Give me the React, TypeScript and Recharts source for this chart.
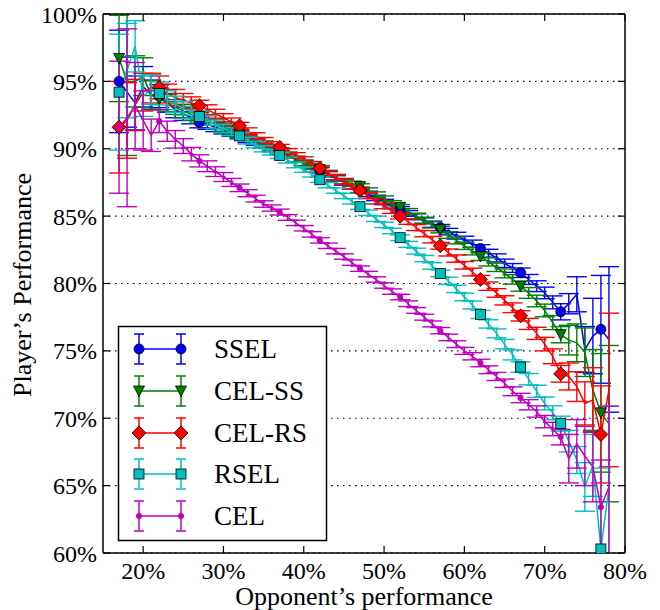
import { ComposedChart, Line, XAxis, YAxis, CartesianGrid, ErrorBar } from 'recharts';

const opponent = [
    17, 18, 19, 20, 21, 22, 23, 24, 25, 26,
    27, 28, 29, 30, 31, 32, 33, 34, 35, 36,
    37, 38, 39, 40, 41, 42, 43, 44, 45, 46,
    47, 48, 49, 50, 51, 52, 53, 54, 55, 56,
    57, 58, 59, 60, 61, 62, 63, 64, 65, 66,
    67, 68, 69, 70, 71, 72, 73, 74, 75, 76,
    77, 78,
];

const ssel = [
    95.0, 94.2, 93.4, 94.6, 94.0, 93.9, 93.4, 92.9, 92.6, 92.3,
    91.95, 91.8, 91.6, 91.4, 91.2, 91.0, 90.7, 90.5, 90.3, 90.0,
    89.8, 89.5, 89.2, 88.95, 88.7, 88.4, 88.1, 87.8, 87.5, 87.2,
    86.95, 86.65, 86.35, 86.05, 85.75, 85.5, 85.2, 84.95, 84.65, 84.4,
    84.15, 83.85, 83.55, 83.25, 82.95, 82.6, 82.25, 81.9, 81.5, 81.15,
    80.8, 80.3, 79.8, 79.3, 78.6, 77.9, 78.5, 79.2, 75.1, 76.1,
    76.6, 75.85,
];
const sselErr = [
    3.8, 2.6, 2.0, 1.5, 1.1, 0.85, 0.7, 0.6, 0.5, 0.45,
    0.4, 0.36, 0.33, 0.3, 0.28, 0.26, 0.25, 0.24, 0.23, 0.22,
    0.22, 0.21, 0.21, 0.2, 0.2, 0.2, 0.2, 0.2, 0.2, 0.2,
    0.2, 0.2, 0.2, 0.2, 0.2, 0.21, 0.21, 0.22, 0.22, 0.23,
    0.23, 0.24, 0.25, 0.26, 0.27, 0.28, 0.29, 0.3, 0.31, 0.33,
    0.35, 0.37, 0.4, 0.43, 0.48, 0.6, 0.75, 1.3, 1.7, 2.8,
    4.0, 5.4,
];

const celSs = [
    96.7, 95.0, 95.0, 95.35, 94.0, 93.7, 93.4, 93.1, 92.8, 92.55,
    92.3, 92.1, 91.85, 91.6, 91.35, 91.1, 90.85, 90.6, 90.35, 90.1,
    89.85, 89.55, 89.25, 88.95, 88.7, 88.45, 88.15, 87.85, 87.6, 87.4,
    87.2, 86.9, 86.6, 86.3, 85.95, 85.65, 85.35, 85.0, 84.7, 84.35,
    84.0, 83.6, 83.2, 82.8, 82.4, 82.0, 81.6, 81.2, 80.75, 80.3,
    79.8, 79.3, 78.7, 78.0, 77.1, 76.2, 75.8, 75.6, 74.9, 72.1,
    70.4, 69.6,
];
const celSsErr = [
    3.2, 5.5, 1.9, 1.4, 1.05, 0.8, 0.65, 0.55, 0.5, 0.45,
    0.4, 0.36, 0.33, 0.3, 0.28, 0.26, 0.25, 0.24, 0.23, 0.22,
    0.22, 0.21, 0.21, 0.2, 0.2, 0.2, 0.2, 0.2, 0.2, 0.2,
    0.2, 0.2, 0.2, 0.2, 0.2, 0.21, 0.21, 0.22, 0.22, 0.23,
    0.24, 0.25, 0.26, 0.27, 0.28, 0.29, 0.3, 0.31, 0.33, 0.35,
    0.37, 0.4, 0.43, 0.47, 0.52, 0.6, 1.1, 1.4, 1.8, 3.0,
    4.4, 5.8,
];

const celRs = [
    91.6, 92.1, 93.25, 94.2, 94.5, 94.55, 94.1, 93.8, 93.6, 93.4,
    93.2, 92.9, 92.6, 92.3, 92.0, 91.7, 91.3, 90.95, 90.6, 90.3,
    90.1, 89.8, 89.5, 89.2, 88.85, 88.55, 88.2, 87.9, 87.55, 87.2,
    86.9, 86.5, 86.1, 85.75, 85.4, 85.0, 84.6, 84.15, 83.7, 83.25,
    82.8, 82.3, 81.85, 81.35, 80.85, 80.3, 79.8, 79.3, 78.75, 78.2,
    77.6, 77.0, 76.3, 75.5, 74.6, 73.3, 73.1, 72.35, 71.1, 71.35,
    68.8, 72.1,
];
const celRsErr = [
    3.4, 2.8, 1.9, 1.4, 1.1, 0.85, 0.7, 0.6, 0.5, 0.45,
    0.4, 0.36, 0.33, 0.3, 0.28, 0.26, 0.25, 0.24, 0.23, 0.22,
    0.22, 0.21, 0.21, 0.2, 0.2, 0.2, 0.2, 0.2, 0.2, 0.2,
    0.2, 0.2, 0.2, 0.2, 0.2, 0.21, 0.21, 0.22, 0.23, 0.24,
    0.25, 0.26, 0.27, 0.28, 0.29, 0.3, 0.31, 0.32, 0.34, 0.36,
    0.38, 0.41, 0.45, 0.5, 0.55, 0.62, 1.0, 1.1, 1.6, 2.4,
    3.6, 5.7,
];

const rsel = [
    94.2, 95.8, 97.6, 93.9, 94.4, 94.1, 93.6, 93.3, 93.0, 92.7,
    92.4, 92.1, 91.8, 91.5, 91.25, 90.95, 90.6, 90.3, 90.0, 89.75,
    89.5, 89.15, 88.8, 88.45, 88.1, 87.7, 87.3, 86.9, 86.5, 86.1,
    85.7, 85.25, 84.8, 84.35, 83.9, 83.4, 82.9, 82.4, 81.85, 81.3,
    80.75, 80.2, 79.6, 79.0, 78.4, 77.7, 77.0, 76.3, 75.5, 74.7,
    73.8, 72.9, 72.0, 71.1, 70.4, 69.6, 68.3, 66.9, 64.9, 66.5,
    60.3, 64.9,
];
const rselErr = [
    4.3, 3.5, 1.9, 1.5, 1.1, 0.85, 0.7, 0.6, 0.5, 0.45,
    0.4, 0.36, 0.33, 0.3, 0.28, 0.26, 0.25, 0.24, 0.23, 0.22,
    0.22, 0.21, 0.21, 0.2, 0.2, 0.2, 0.2, 0.2, 0.2, 0.2,
    0.2, 0.2, 0.2, 0.2, 0.2, 0.21, 0.22, 0.22, 0.23, 0.24,
    0.25, 0.26, 0.27, 0.28, 0.29, 0.3, 0.31, 0.33, 0.35, 0.37,
    0.39, 0.42, 0.45, 0.48, 0.52, 0.55, 0.8, 1.0, 1.8, 2.3,
    6.0, 6.0,
];

const cel = [
    91.6, 92.3, 93.2, 92.1, 91.0, 92.05, 91.3, 90.7, 90.2, 89.6,
    89.1, 88.7, 88.3, 87.9, 87.5, 87.1, 86.7, 86.3, 85.9, 85.6,
    85.3, 84.9, 84.5, 84.1, 83.65, 83.2, 82.8, 82.4, 82.0, 81.55,
    81.1, 80.7, 80.3, 79.85, 79.4, 79.0, 78.5, 78.0, 77.5, 77.0,
    76.5, 76.0, 75.5, 75.0, 74.6, 74.1, 73.6, 73.1, 72.6, 72.0,
    71.5, 71.0, 70.5, 69.75, 69.2, 68.6, 67.0, 68.1, 67.2, 66.4,
    63.4, 64.9,
];
const celErr = [
    4.9, 6.6, 3.2, 2.2, 1.2, 0.85, 0.75, 0.65, 0.55, 0.5,
    0.45, 0.4, 0.36, 0.33, 0.3, 0.28, 0.26, 0.25, 0.24, 0.23,
    0.22, 0.21, 0.2, 0.2, 0.2, 0.2, 0.2, 0.2, 0.2, 0.2,
    0.2, 0.2, 0.2, 0.2, 0.2, 0.2, 0.21, 0.21, 0.22, 0.22,
    0.23, 0.24, 0.25, 0.26, 0.27, 0.28, 0.29, 0.3, 0.31, 0.33,
    0.35, 0.38, 0.42, 0.46, 0.5, 0.58, 1.8, 1.8, 2.2, 2.6,
    3.5, 6.0,
];

const xTicks = [20, 30, 40, 50, 60, 70, 80];
const yTicks = [60, 65, 70, 75, 80, 85, 90, 95, 100];

// markers are only drawn every 5th point, starting at the first one
const MARKER_START = 17;
const MARKER_STEP = 5;

const series = [
    { key: 'ssel', name: 'SSEL', color: '#0000ff', shape: 'circle' },
    { key: 'celSs', name: 'CEL-SS', color: '#008000', shape: 'triangle' },
    { key: 'celRs', name: 'CEL-RS', color: '#ff0000', shape: 'diamond' },
    { key: 'rsel', name: 'RSEL', color: '#00bfbf', shape: 'square' },
    { key: 'cel', name: 'CEL', color: '#bf00bf', shape: 'dot' },
];

const data = opponent.map((x, i) => ({
    x,
    ssel: ssel[i], sselErr: sselErr[i],
    celSs: celSs[i], celSsErr: celSsErr[i],
    celRs: celRs[i], celRsErr: celRsErr[i],
    rsel: rsel[i], rselErr: rselErr[i],
    cel: cel[i], celErr: celErr[i],
}));

const FONT = 'Liberation Serif, DejaVu Serif, Times New Roman, serif';

// plot box, used to clip the error bars like matplotlib does
const PLOT = { x: 103, y: 14, w: 522, h: 539 };

function Marker({ shape, x, y, color }: { shape: string; x: number; y: number; color: string }) {
    const edge = { stroke: '#000', strokeWidth: 0.8 };
    switch (shape) {
        case 'circle':
            return <circle cx={x} cy={y} r={5} fill={color} {...edge} />;
        case 'triangle':
            return <path d={`M${x - 5.5},${y - 5}L${x + 5.5},${y - 5}L${x},${y + 5.5}Z`} fill={color} {...edge} />;
        case 'diamond':
            return <path d={`M${x},${y - 7}L${x + 7},${y}L${x},${y + 7}L${x - 7},${y}Z`} fill={color} {...edge} />;
        case 'square':
            return <rect x={x - 5} y={y - 5} width={10} height={10} fill={color} {...edge} />;
        default:
            return <circle cx={x} cy={y} r={3} fill={color} />;
    }
}

const makeDot = (shape: string, color: string) => (props: any) => {
    const { cx, cy, payload, index } = props;
    if ((payload.x - MARKER_START) % MARKER_STEP !== 0) return <g key={index} />;
    return (
        <g key={index}>
            <Marker shape={shape} x={cx} y={cy} color={color} />
        </g>
    );
};

function LegendBox() {
    const left = 118;
    const top = 326;
    const rowY = [349, 391, 433, 474, 516];
    const x1 = 139;
    const x2 = 181;
    return (
        <svg width={660} height={610} style={{ position: 'absolute', left: 0, top: 0, pointerEvents: 'none' }}>
            <defs>
                <clipPath id="plotClip">
                    <rect x={PLOT.x} y={PLOT.y} width={PLOT.w} height={PLOT.h} />
                </clipPath>
            </defs>
            <rect x={left + 0.5} y={top + 0.5} width={208} height={214} fill="#fff" stroke="#000" strokeWidth={1.5} />
            {series.map((s, i) => {
                const cy = rowY[i];
                return (
                    <g key={s.key}>
                        <line x1={x1} x2={x2} y1={cy} y2={cy} stroke={s.color} strokeWidth={1.5} />
                        {[x1, x2].map((bx) => (
                            <g key={bx} stroke={s.color} strokeWidth={1.5}>
                                <line x1={bx} x2={bx} y1={cy - 15} y2={cy + 15} />
                                <line x1={bx - 5} x2={bx + 5} y1={cy - 15} y2={cy - 15} />
                                <line x1={bx - 5} x2={bx + 5} y1={cy + 15} y2={cy + 15} />
                            </g>
                        ))}
                        <Marker shape={s.shape} x={x1} y={cy} color={s.color} />
                        <Marker shape={s.shape} x={x2} y={cy} color={s.color} />
                        <text x={214} y={cy + 9} fontFamily={FONT} fontSize={27} fill="#000">
                            {s.name}
                        </text>
                    </g>
                );
            })}
            <text
                x={22}
                y={285}
                transform="rotate(-90 22 285)"
                textAnchor="middle"
                dominantBaseline="central"
                fontFamily={FONT}
                fontSize={26}
                fill="#000"
            >
                Player’s Performance
            </text>
        </svg>
    );
}

export default function App() {
    const tickStyle = { fill: '#000', fontSize: 24, fontFamily: FONT };
    const axisLine = { stroke: '#000', strokeWidth: 1.5 };
    const tickLine = { stroke: '#000', strokeWidth: 1.2 };
    const pct = (v: number) => `${v}%`;
    const blank = () => '';

    return (
        <div style={{ position: 'absolute', left: 0, top: 0, width: 660, height: 610, background: '#fff', fontFamily: FONT }}>
            <style>{`.recharts-errorBar { clip-path: url(#plotClip); }`}</style>
            <ComposedChart width={660} height={610} data={data} margin={{ top: 0, right: 0, bottom: 0, left: 0 }}>
                <CartesianGrid vertical={false} stroke="#000" strokeDasharray="1.5 4.5" strokeWidth={1.2} />
                <XAxis
                    dataKey="x"
                    type="number"
                    domain={[15, 80]}
                    allowDataOverflow
                    ticks={xTicks}
                    interval={0}
                    height={57}
                    tickFormatter={pct}
                    tick={tickStyle}
                    tickSize={-7}
                    tickMargin={16}
                    axisLine={axisLine}
                    tickLine={tickLine}
                    label={{ value: 'Opponent’s performance', position: 'insideBottom', offset: 5, fill: '#000', fontSize: 26, fontFamily: FONT }}
                />
                <XAxis
                    xAxisId="top"
                    orientation="top"
                    dataKey="x"
                    type="number"
                    domain={[15, 80]}
                    allowDataOverflow
                    ticks={xTicks}
                    interval={0}
                    height={14}
                    tickFormatter={blank}
                    tickSize={-7}
                    axisLine={axisLine}
                    tickLine={tickLine}
                />
                <YAxis
                    type="number"
                    domain={[60, 100]}
                    allowDataOverflow
                    ticks={yTicks}
                    interval={0}
                    width={103}
                    tickFormatter={pct}
                    tick={tickStyle}
                    tickSize={-7}
                    tickMargin={13}
                    axisLine={axisLine}
                    tickLine={tickLine}
                />
                <YAxis
                    yAxisId="right"
                    orientation="right"
                    type="number"
                    domain={[60, 100]}
                    allowDataOverflow
                    ticks={yTicks}
                    interval={0}
                    width={35}
                    tickFormatter={blank}
                    tickSize={-7}
                    axisLine={axisLine}
                    tickLine={tickLine}
                />
                {series.map((s) => (
                    <Line
                        key={s.key}
                        dataKey={s.key}
                        name={s.name}
                        type="linear"
                        stroke={s.color}
                        strokeWidth={1.5}
                        dot={makeDot(s.shape, s.color)}
                        activeDot={false}
                        isAnimationActive={false}
                    >
                        <ErrorBar dataKey={`${s.key}Err`} width={10} stroke={s.color} strokeWidth={1.4} direction="y" />
                    </Line>
                ))}
            </ComposedChart>
            <LegendBox />
        </div>
    );
}
